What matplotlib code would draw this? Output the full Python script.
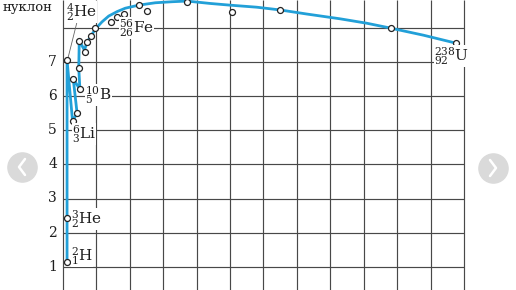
"""Binding energy per nucleon chart (textbook style)."""

import matplotlib

matplotlib.use('Agg')
import matplotlib.pyplot as plt

# --- data: mass number A, energy per nucleon E (MeV) ---
# light nuclei, zig-zag part of the curve
light_A = [2.6, 2.6, 2.6, 5.9, 8.6, 6.3, 10.3, 9.6, 9.9, 13.0, 14.5, 16.9, 19.9]
light_E = [1.14, 2.43, 7.06, 5.27, 5.50, 6.51, 6.20, 6.82, 7.63, 7.35, 7.58, 7.77, 7.99]

# smooth part of the curve
curve_A = [19.9, 23.5, 27.5, 32.5, 37.4, 45.4, 55.4, 65.4, 74.3, 88.1, 100.0,
           116.0, 129.9, 145.9, 165.8, 181.8, 195.7, 215.6, 235.6]
curve_E = [7.99, 8.18, 8.35, 8.48, 8.58, 8.67, 8.74, 8.77, 8.79, 8.72, 8.67,
           8.61, 8.53, 8.41, 8.27, 8.14, 8.00, 7.79, 7.55]

# open circles (nuclides)
mark_A = [2.6, 2.6, 2.6, 5.9, 8.6, 6.3, 10.3, 9.6, 9.9, 13.2, 14.5, 16.9, 19.6,
          28.6, 32.5, 36.8, 45.6, 50.6, 74.1, 101.4, 130.1, 196.3, 235.2]
mark_E = [1.14, 2.43, 7.06, 5.27, 5.50, 6.51, 6.20, 6.82, 7.63, 7.30, 7.58, 7.77, 8.01,
          8.18, 8.33, 8.42, 8.67, 8.51, 8.77, 8.47, 8.54, 8.00, 7.55]

y_ticks = [1, 2, 3, 4, 5, 6, 7]
grid_A = list(range(0, 241, 20))
grid_E = [1, 2, 3, 4, 5, 6, 7, 8]

# isotope labels: text, pixel position (left edge, centre y)
labels = [
    (r'${}^{4}_{2}\mathrm{He}$', 66, 12),
    (r'${}^{56}_{26}\mathrm{Fe}$', 119, 28),
    (r'${}^{10}_{5}\mathrm{B}$', 85, 95),
    (r'${}^{6}_{3}\mathrm{Li}$', 72, 134),
    (r'${}^{3}_{2}\mathrm{He}$', 71, 219),
    (r'${}^{2}_{1}\mathrm{H}$', 71, 256),
    (r'${}^{238}_{92}\mathrm{U}$', 434, 56),
]

# pixel -> data mapping of the reference
X0, SX = 62.7, 1.6725
Y1, SY = 266.7, 34.1
W, H = 516, 290


def px(x, y):
    return (x - X0) / SX, 1 + (Y1 - y) / SY


plt.rcParams['mathtext.fontset'] = 'dejavuserif'
plt.rcParams['font.family'] = 'DejaVu Serif'

fig = plt.figure(figsize=(W / 100, H / 100), dpi=100)
ax = fig.add_axes([0, 0, 1, 1])
ax.set_xlim(px(0, 0)[0], px(W, 0)[0])
ax.set_ylim(px(0, H)[1], px(0, 0)[1])
ax.axis('off')

# grid
ybot, ytop = ax.get_ylim()
ax.vlines(grid_A, ybot, ytop, color='#484848', lw=0.85, zorder=1)
ax.hlines(grid_E, 0, 240, color='#484848', lw=0.85, zorder=1)

for v in y_ticks:
    ax.text(px(57, 0)[0], v, str(v), ha='right', va='center', fontsize=10,
            color='#1e1e1e')

ax.text(*px(3, 7), 'нуклон', ha='left', va='center', fontsize=9.5, color='#1e1e1e')

# curve
ax.plot(light_A, light_E, color='#22a0d8', lw=2.0, solid_joinstyle='round', zorder=3)
ax.plot(curve_A, curve_E, color='#22a0d8', lw=2.0, solid_joinstyle='round', zorder=3)
ax.plot(mark_A, mark_E, 'o', ms=4.3, mfc='white', mec='#222222', mew=0.9, zorder=4)

# leader line for 4He
lx, ly = zip(px(68, 58), px(78, 18))
ax.plot(lx, ly, color='#666666', lw=0.6, zorder=2)

for txt, x, y in labels:
    ax.text(*px(x, y), txt, ha='left', va='center', fontsize=11, color='#1e1e1e',
            zorder=5, bbox=dict(facecolor='white', edgecolor='none', pad=0.3))

# carousel buttons
for bx, by, d in [(22, 167, -1), (493, 168, 1)]:
    ax.plot(*px(bx, by), 'o', ms=21, color='#dadada', zorder=6)
    cx, cy = zip(px(bx - 3 * d, by - 8), px(bx + 3 * d, by), px(bx - 3 * d, by + 8))
    ax.plot(cx, cy, color='white', lw=1.8, zorder=7, solid_capstyle='round')

plt.savefig('out.png', dpi=100)
plt.close()
